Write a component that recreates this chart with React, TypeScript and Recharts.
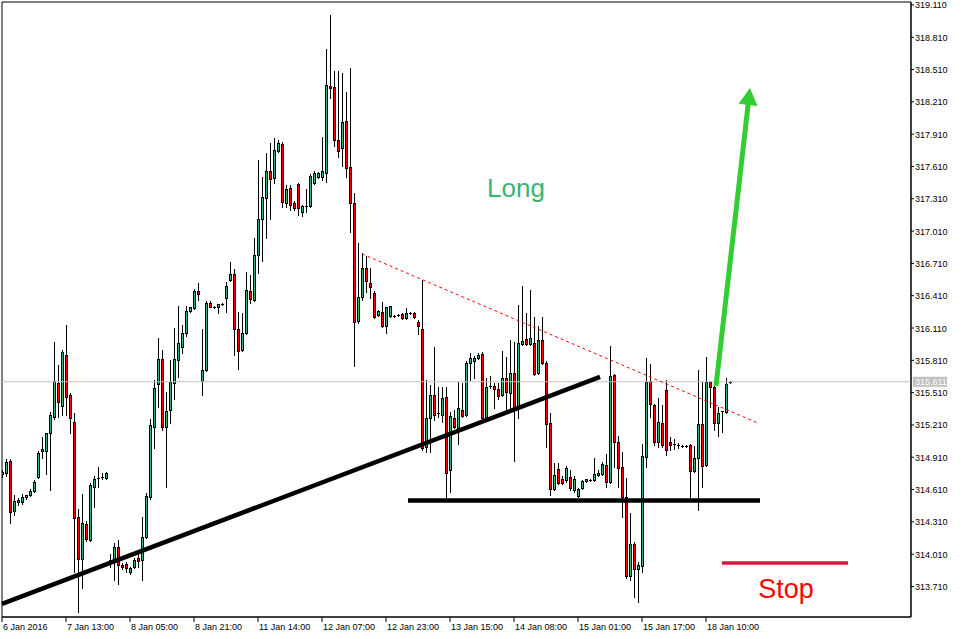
import React from "react";
import {
  ComposedChart,
  Bar,
  XAxis,
  YAxis,
  ReferenceLine,
  ReferenceArea,
  ReferenceDot,
} from "recharts";

// EURHUF H1, bar 0 = 6 Jan 2016
const opens = [
  314.755, 314.764, 314.876, 314.412, 314.495, 314.495, 314.541, 314.56, 314.597, 314.727,
  314.969, 314.969, 315.136, 315.284, 315.6, 315.386, 315.86, 315.489, 315.238, 314.356,
  313.966, 314.291, 314.143, 314.634, 314.708, 314.718, 314.718, 313.957, 313.957, 314.078,
  313.91, 313.92, 313.845, 313.892, 313.976, 313.957, 314.17, 314.541, 315.192, 315.591,
  315.823, 315.192, 315.349, 315.6, 315.813, 315.934, 316.065, 316.269, 316.297, 316.454,
  315.619, 315.72, 316.343, 316.306, 316.306, 316.334, 316.389, 316.556, 316.612, 316.102,
  315.906, 316.065, 316.454, 316.371, 316.788, 317.123, 317.318, 317.569, 317.504, 317.755,
  317.82, 317.271, 317.411, 317.271, 317.448, 317.188, 317.234, 317.243, 317.457, 317.513,
  317.513, 317.55, 318.357, 318.348, 317.857, 317.782, 318.033, 317.606, 317.271, 316.176,
  316.398, 316.668, 316.529, 316.436, 316.232, 316.26, 316.13, 316.222, 316.222, 316.232,
  316.241, 316.204, 316.25, 316.25, 316.167, 316.102, 315.006, 315.275, 315.489, 315.312,
  315.303, 315.47, 314.792, 315.275, 315.182, 315.349, 315.303, 315.785, 315.804, 315.832,
  315.869, 315.284, 315.563, 315.572, 315.545, 315.489, 315.648, 315.507, 315.693, 315.377,
  315.962, 316.009, 315.962, 315.972, 315.693, 316.0, 315.785, 315.229, 314.616, 314.801,
  314.708, 314.699, 314.727, 314.606, 314.551, 314.625, 314.69, 314.699, 314.699, 314.746,
  314.755, 314.838, 314.681, 315.675, 315.052, 314.82, 314.541, 313.808, 314.106, 313.873,
  313.901, 314.913, 315.619, 315.396, 315.052, 315.229, 315.535, 315.052, 315.033, 315.024,
  315.015, 315.015, 315.024, 314.783, 314.903, 315.219, 314.838, 315.609, 315.563, 315.229,
  315.331, 315.331, 315.609,
];

const highs = [
  314.792, 314.894, 314.894, 314.56, 314.532, 314.569, 314.56, 314.616, 314.699, 314.969,
  315.098, 315.136, 315.331, 315.981, 315.767, 315.906, 316.139, 315.507, 315.321, 314.43,
  314.569, 314.319, 314.672, 314.736, 314.82, 314.764, 314.773, 314.013, 314.115, 314.143,
  313.929, 313.938, 313.892, 313.976, 314.022, 314.356, 314.579, 315.266, 315.628, 316.018,
  315.906, 315.517, 315.813, 316.111, 316.315, 316.139, 316.315, 316.306, 316.473, 316.529,
  316.102, 316.362, 316.362, 316.315, 316.334, 316.343, 316.538, 316.724, 316.659, 316.26,
  316.25, 316.631, 316.603, 316.946, 317.671, 317.513, 317.736, 317.829, 317.875, 317.857,
  317.838, 317.439, 317.439, 317.29, 317.457, 317.253, 317.401, 317.541, 317.569, 317.559,
  317.885, 318.701, 319.017, 318.497, 318.497, 318.478, 318.302, 318.525, 317.364, 316.9,
  316.807, 316.779, 316.668, 316.454, 316.278, 316.352, 316.306, 316.315, 316.232, 316.241,
  316.25, 316.297, 316.26, 316.26, 316.186, 316.556, 315.628, 315.582, 315.934, 315.563,
  315.563, 315.563, 315.331, 315.349, 315.609, 315.6, 315.804, 315.878, 315.85, 315.878,
  315.888, 315.648, 315.665, 315.6, 315.6, 315.897, 315.841, 316.0, 315.981, 316.325,
  316.501, 316.25, 316.464, 316.213, 316.13, 316.213, 315.804, 315.321, 314.857, 314.857,
  314.736, 314.829, 314.792, 314.736, 314.625, 314.699, 314.708, 314.708, 314.903, 314.792,
  314.866, 314.941, 315.944, 315.684, 315.108, 314.959, 314.718, 314.393, 314.124, 313.938,
  315.033, 315.832, 315.776, 315.405, 315.461, 315.396, 315.628, 315.098, 315.08, 315.043,
  315.024, 315.02, 315.033, 315.015, 315.721, 315.609, 315.841, 315.619, 315.572, 315.377,
  315.34, 315.648, 315.619,
];

const lows = [
  314.727, 314.736, 314.3, 314.375, 314.468, 314.477, 314.523, 314.551, 314.588, 314.718,
  314.903, 314.755, 314.606, 315.266, 315.284, 315.303, 315.303, 315.136, 313.845, 313.474,
  313.697, 314.133, 314.133, 314.449, 314.634, 314.708, 314.708, 313.892, 313.771, 313.734,
  313.873, 313.845, 313.827, 313.882, 313.892, 313.771, 314.161, 314.523, 314.996, 315.377,
  315.163, 314.634, 315.229, 315.451, 315.656, 315.878, 316.037, 316.26, 316.287, 316.371,
  315.489, 315.711, 316.306, 316.297, 316.25, 316.325, 316.26, 316.547, 315.86, 315.73,
  315.897, 316.055, 316.343, 316.362, 316.622, 316.733, 316.946, 317.123, 317.457, 317.745,
  317.234, 317.234, 317.206, 317.206, 317.16, 317.151, 317.188, 317.234, 317.448, 317.504,
  317.485, 317.467, 318.246, 317.801, 317.699, 317.613, 317.513, 317.002, 315.758, 316.158,
  316.371, 316.445, 316.389, 316.204, 316.222, 316.12, 316.065, 316.213, 316.213, 316.222,
  316.195, 316.195, 316.241, 316.204, 316.055, 314.978, 314.959, 314.959, 315.256, 315.284,
  315.238, 314.532, 314.588, 315.182, 315.033, 315.284, 315.293, 315.628, 315.648, 315.823,
  315.266, 315.275, 315.554, 315.368, 315.451, 315.479, 315.349, 315.358, 314.876, 315.275,
  315.953, 315.953, 315.953, 315.675, 315.684, 315.776, 315.006, 314.56, 314.606, 314.662,
  314.662, 314.681, 314.606, 314.588, 314.541, 314.616, 314.681, 314.69, 314.69, 314.736,
  314.746, 314.634, 314.672, 314.82, 314.634, 314.356, 313.79, 313.771, 313.613, 313.567,
  313.845, 314.82, 315.284, 315.024, 315.006, 315.006, 314.931, 314.978, 314.987, 314.996,
  315.006, 315.01, 314.532, 314.773, 314.421, 314.634, 314.829, 315.377, 315.163, 315.108,
  315.145, 315.321, 315.6,
];

const closes = [
  314.773, 314.866, 314.403, 314.505, 314.514, 314.541, 314.56, 314.597, 314.681, 314.95,
  314.987, 315.136, 315.303, 315.619, 315.423, 315.888, 315.47, 315.275, 314.347, 313.966,
  314.3, 314.152, 314.653, 314.708, 314.718, 314.727, 314.764, 313.929, 314.078, 313.91,
  313.892, 313.882, 313.882, 313.957, 313.948, 314.17, 314.551, 315.21, 315.554, 315.823,
  315.192, 315.34, 315.609, 315.823, 315.972, 316.065, 316.269, 316.306, 316.454, 316.427,
  315.72, 316.343, 316.306, 316.306, 316.334, 316.334, 316.501, 316.612, 316.102, 315.897,
  316.065, 316.464, 316.38, 316.788, 317.123, 317.327, 317.569, 317.494, 317.764, 317.829,
  317.28, 317.401, 317.253, 317.225, 317.225, 317.243, 317.243, 317.522, 317.55, 317.55,
  317.569, 318.367, 318.339, 317.857, 317.755, 318.024, 317.597, 317.271, 316.167, 316.398,
  316.668, 316.547, 316.492, 316.213, 316.269, 316.13, 316.306, 316.315, 316.222, 316.232,
  316.204, 316.25, 316.25, 316.213, 316.13, 314.996, 315.275, 315.489, 315.303, 315.321,
  315.461, 314.764, 315.293, 315.192, 315.368, 315.293, 315.785, 315.832, 315.832, 315.86,
  315.275, 315.563, 315.572, 315.545, 315.479, 315.648, 315.517, 315.693, 315.377, 315.972,
  315.99, 315.962, 316.018, 315.684, 316.0, 315.785, 315.219, 314.616, 314.746, 314.671,
  314.671, 314.81, 314.625, 314.708, 314.616, 314.69, 314.708, 314.699, 314.755, 314.764,
  314.848, 314.681, 315.665, 315.052, 314.81, 314.541, 313.808, 314.106, 313.873, 313.91,
  314.922, 315.609, 315.405, 315.052, 315.238, 315.024, 314.978, 315.024, 315.033, 315.024,
  315.015, 315.015, 314.783, 314.903, 315.219, 314.829, 315.609, 315.563, 315.229, 315.321,
  315.335, 315.591, 315.611,
];

const timeLabels = [
  "6 Jan 2016", "7 Jan 13:00", "8 Jan 05:00", "8 Jan 21:00", "11 Jan 14:00", "12 Jan 07:00",
  "12 Jan 23:00", "13 Jan 15:00", "14 Jan 08:00", "15 Jan 01:00", "15 Jan 17:00", "18 Jan 10:00",
];
const barsPerLabel = 16;

const priceTicks = [
  313.71, 314.01, 314.31, 314.61, 314.91, 315.21, 315.51, 315.81, 316.11, 316.41,
  316.71, 317.01, 317.31, 317.61, 317.91, 318.21, 318.51, 318.81, 319.11,
];
const lastPrice = 315.611;

// analysis objects drawn on the chart (bar index, price)
const trendLine = [{ x: 0, y: 313.548 }, { x: 149.5, y: 315.656 }];
const supportLine = [{ x: 101.5, y: 314.509 }, { x: 189.5, y: 314.509 }];
const resistanceLine = [{ x: 90, y: 316.798 }, { x: 189, y: 315.228 }];
const longArrow = [{ x: 178.5, y: 315.572 }, { x: 187, y: 318.339 }];
const stopLine = [{ x: 180, y: 313.929 }, { x: 211.5, y: 313.929 }];
const longLabel = { x: 128.5, y: 317.327, text: "Long" };
const stopLabel = { x: 196, y: 313.604, text: "Stop" };

const data = opens.map((o, i) => ({
  i,
  open: o,
  high: highs[i],
  low: lows[i],
  close: closes[i],
  range: [lows[i], highs[i]],
}));

const UP = "#3cb371";
const DOWN = "#ff0000";
const FONT = "'Liberation Sans', Arial, sans-serif";

const Candle = (props: any) => {
  const { x, y, width, height, payload } = props;
  if (!payload) return null;
  const { open, close, high, low } = payload;
  const top = Math.min(y, y + height);
  const h = Math.abs(height);
  const span = high - low || 1;
  const toY = (v: number) => top + ((high - v) / span) * h;
  const col = Math.round(x + width / 2);
  const yTop = Math.round(toY(Math.max(open, close)));
  const yBot = Math.round(toY(Math.min(open, close)));
  return (
    <g>
      <line
        x1={col + 0.5}
        x2={col + 0.5}
        y1={Math.round(toY(high))}
        y2={Math.round(toY(low)) + 1}
        stroke="#000"
        strokeWidth={1}
      />
      {yBot - yTop < 2 ? (
        <line x1={col - 1} x2={col + 2} y1={yTop + 0.5} y2={yTop + 0.5} stroke="#000" />
      ) : (
        <rect
          x={col - 0.5}
          y={yTop + 0.5}
          width={2}
          height={yBot - yTop}
          fill={close >= open ? UP : DOWN}
          stroke="#000"
          strokeWidth={1}
        />
      )}
    </g>
  );
};

const Arrow = (p: any) => {
  const { x1, y1, x2, y2 } = p;
  const dx = x2 - x1;
  const dy = y2 - y1;
  const len = Math.hypot(dx, dy) || 1;
  const ux = dx / len;
  const uy = dy / len;
  const nx = -uy;
  const ny = ux;
  const headL = 17;
  const headW = 9.5;
  const bx = x2 - ux * headL;
  const by = y2 - uy * headL;
  return (
    <g>
      <line x1={x1} y1={y1} x2={bx + ux} y2={by + uy} stroke="#32cd32" strokeWidth={5} />
      <polygon
        points={`${x2},${y2} ${bx + nx * headW},${by + ny * headW} ${bx - nx * headW},${by - ny * headW}`}
        fill="#32cd32"
      />
    </g>
  );
};

const XTick = (p: any) => {
  const idx = Math.round(p.payload.value / barsPerLabel);
  return (
    <text x={p.x + 1} y={p.y + 8} fontSize={9} fontFamily={FONT} fill="#000" textAnchor="start">
      {timeLabels[idx]}
    </text>
  );
};

const YTick = (p: any) => (
  <text x={p.x + 1} y={p.y + 3.5} fontSize={9} fontFamily={FONT} fill="#000" textAnchor="start">
    {Number(p.payload.value).toFixed(3)}
  </text>
);

const PriceTag = (props: any) => {
  const vb = props.viewBox || {};
  const right = (vb.x || 0) + (vb.width || 0);
  const y = vb.y || 0;
  return (
    <g>
      <rect x={right + 2} y={y - 5} width={34} height={10} fill="#c0c0c0" />
      <text x={right + 4} y={y + 3.5} fontSize={9} fontFamily={FONT} fill="#fff">
        {lastPrice.toFixed(3)}
      </text>
    </g>
  );
};

const TextMark = (color: string, text: string, size: number) => (p: any) => (
  <text x={p.cx} y={p.cy} fill={color} fontSize={size} fontFamily={FONT} textAnchor="middle">
    {text}
  </text>
);

export default function App() {
  return (
    <div style={{ position: "absolute", left: 0, top: 0, width: 963, height: 639, background: "#fff" }}>
      <ComposedChart
        width={963}
        height={639}
        data={data}
        margin={{ top: 2, right: 0, bottom: 0, left: 2 }}
      >
        <XAxis
          dataKey="i"
          type="number"
          domain={[0, 227.25]}
          allowDataOverflow
          ticks={timeLabels.map((_, k) => k * barsPerLabel)}
          interval={0}
          height={22}
          tickSize={5}
          tickMargin={0}
          stroke="#000"
          tick={(p: any) => <XTick {...p} />}
        />
        <YAxis
          orientation="right"
          type="number"
          domain={[313.427, 319.137]}
          allowDataOverflow
          ticks={priceTicks}
          interval={0}
          width={52}
          tickSize={3}
          tickMargin={0}
          stroke="#000"
          tick={(p: any) => <YTick {...p} />}
        />
        <ReferenceArea
          x1={0}
          x2={227.25}
          y1={313.427}
          y2={319.137}
          fill="none"
          stroke="#000"
          fillOpacity={0}
        />
        <ReferenceLine y={lastPrice} stroke="#c0c0c0" label={(p: any) => <PriceTag {...p} />} />
        <Bar
          dataKey="range"
          barSize={3}
          isAnimationActive={false}
          shape={(p: any) => <Candle {...p} />}
        />
        <ReferenceLine segment={trendLine} stroke="#000" strokeWidth={4.5} />
        <ReferenceLine segment={supportLine} stroke="#000" strokeWidth={4.5} />
        <ReferenceLine segment={resistanceLine} stroke="#ff0000" strokeWidth={1} strokeDasharray="3 3" />
        <ReferenceLine segment={stopLine} stroke="#dc143c" strokeWidth={3.5} />
        <ReferenceLine segment={longArrow} shape={(p: any) => <Arrow {...p} />} />
        <ReferenceDot
          x={longLabel.x}
          y={longLabel.y}
          r={0}
          shape={TextMark("#3cb371", longLabel.text, 26)}
        />
        <ReferenceDot
          x={stopLabel.x}
          y={stopLabel.y}
          r={0}
          shape={TextMark("#ff0000", stopLabel.text, 27)}
        />
      </ComposedChart>
    </div>
  );
}
